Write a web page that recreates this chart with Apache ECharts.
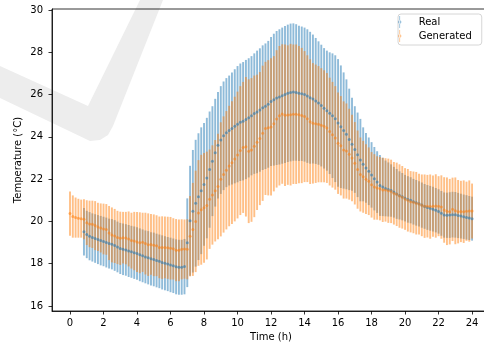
<!DOCTYPE html>
<html>
<head>
<meta charset="utf-8">
<script src="https://cdn.jsdelivr.net/npm/echarts@6/dist/echarts.min.js"></script>
<style>
  html, body { margin: 0; padding: 0; background: #fff; }
  #chart { width: 484px; height: 343px; }
</style>
</head>
<body>
<div id="chart"></div>
<script>
// ---- sampling grid: one sample every 10 minutes, hours 0..24 ----
const STEP_MIN = 10;
const REAL_START_INDEX = 5;   // real data begins at 0:50

const X_TICKS = [0, 2, 4, 6, 8, 10, 12, 14, 16, 18, 20, 22, 24];
const Y_TICKS = [16, 18, 20, 22, 24, 26, 28, 30];

// Generated: mean temperature per sample (deg C)
const GEN_MEAN = [
  20.37, 20.23, 20.18, 20.15, 20.13, 20.10, 19.94, 19.88, 19.86, 19.80,
  19.74, 19.69, 19.64, 19.62, 19.45, 19.36, 19.31, 19.24, 19.20, 19.23,
  19.21, 19.17, 19.09, 19.07, 19.03, 18.99, 19.01, 18.95, 18.90, 18.91,
  18.87, 18.85, 18.77, 18.76, 18.77, 18.75, 18.73, 18.70, 18.64, 18.63,
  18.68, 18.69, 18.68, 19.30, 19.62, 20.00, 20.40, 20.55, 20.64, 20.75,
  21.05, 21.25, 21.45, 21.65, 21.99, 22.22, 22.42, 22.62, 22.78, 22.95,
  23.14, 23.35, 23.50, 23.53, 23.32, 23.38, 23.55, 23.74, 23.92, 24.17,
  24.40, 24.43, 24.47, 24.62, 24.85, 25.00, 25.08, 25.02, 25.03, 25.05,
  25.07, 25.07, 25.05, 25.01, 24.96, 24.86, 24.72, 24.64, 24.62, 24.60,
  24.55, 24.50, 24.42, 24.25, 24.10, 23.95, 23.70, 23.58, 23.38, 23.33,
  23.18, 23.00, 22.75, 22.45, 22.22, 22.11, 22.00, 21.90, 21.73, 21.63,
  21.58, 21.55, 21.49, 21.49, 21.45, 21.42, 21.33, 21.28, 21.20, 21.14,
  21.06, 21.00, 20.93, 20.90, 20.86, 20.82, 20.76, 20.72, 20.72, 20.70,
  20.72, 20.73, 20.72, 20.68, 20.54, 20.48, 20.46, 20.57, 20.50, 20.46,
  20.47, 20.46, 20.48, 20.49, 20.49
];
// Generated: error-bar half height (std) per sample
const GEN_STD = [
  1.05, 1.00, 0.95, 0.92, 0.90, 0.95, 1.06, 1.10, 1.12, 1.16,
  1.14, 1.16, 1.20, 1.20, 1.28, 1.30, 1.28, 1.26, 1.26, 1.22,
  1.24, 1.30, 1.32, 1.38, 1.42, 1.44, 1.40, 1.46, 1.48, 1.44,
  1.46, 1.44, 1.46, 1.48, 1.46, 1.47, 1.48, 1.45, 1.47, 1.46,
  1.42, 1.40, 1.42, 1.90, 2.20, 2.40, 2.50, 2.60, 2.60, 2.55,
  2.35, 2.35, 2.40, 2.50, 2.70, 2.75, 2.80, 2.85, 2.90, 2.95,
  3.00, 3.05, 3.10, 3.30, 3.40, 3.40, 3.35, 3.20, 3.15, 3.20,
  3.15, 3.20, 3.25, 3.20, 3.25, 3.30, 3.30, 3.35, 3.30, 3.35,
  3.30, 3.30, 3.25, 3.20, 3.10, 3.00, 2.95, 2.85, 2.80, 2.75,
  2.70, 2.65, 2.60, 2.55, 2.50, 2.45, 2.40, 2.35, 2.30, 2.25,
  2.15, 2.05, 1.95, 1.85, 1.75, 1.70, 1.65, 1.60, 1.55, 1.55,
  1.50, 1.50, 1.52, 1.50, 1.52, 1.50, 1.48, 1.50, 1.50, 1.48,
  1.46, 1.48, 1.45, 1.46, 1.48, 1.44, 1.46, 1.50, 1.48, 1.52,
  1.45, 1.50, 1.42, 1.50, 1.55, 1.60, 1.55, 1.50, 1.58, 1.50,
  1.45, 1.48, 1.40, 1.45, 1.30
];
// Real: mean temperature per sample (from 0:50 to 24:00)
const REAL_MEAN = [
  19.51, 19.38, 19.30, 19.24, 19.19, 19.14, 19.09, 19.05, 19.00, 18.95,
  18.92, 18.86, 18.79, 18.72, 18.68, 18.65, 18.60, 18.56, 18.52, 18.48,
  18.42, 18.37, 18.32, 18.28, 18.23, 18.20, 18.15, 18.11, 18.06, 18.02,
  17.98, 17.94, 17.90, 17.85, 17.83, 17.83, 17.86, 18.99, 20.03, 20.48,
  20.86, 21.17, 21.45, 21.75, 22.05, 22.45, 22.85, 23.25, 23.60, 23.85,
  24.05, 24.20, 24.30, 24.40, 24.50, 24.60, 24.69, 24.74, 24.82, 24.90,
  25.00, 25.10, 25.18, 25.27, 25.38, 25.45, 25.54, 25.67, 25.76, 25.84,
  25.89, 25.95, 26.00, 26.06, 26.10, 26.12, 26.10, 26.06, 26.04, 26.00,
  25.93, 25.85, 25.79, 25.70, 25.60, 25.48, 25.35, 25.24, 25.12, 25.00,
  24.86, 24.66, 24.48, 24.30, 24.12, 23.88, 23.65, 23.40, 23.15, 22.90,
  22.70, 22.53, 22.37, 22.20, 22.02, 21.86, 21.70, 21.63, 21.56, 21.51,
  21.46, 21.38, 21.30, 21.23, 21.17, 21.10, 21.04, 21.00, 20.93, 20.88,
  20.83, 20.77, 20.71, 20.66, 20.62, 20.58, 20.53, 20.47, 20.38, 20.30,
  20.29, 20.30, 20.32, 20.31, 20.28, 20.25, 20.22, 20.19, 20.16, 20.13
];
// Real: error-bar half height (std) per sample
const REAL_STD = [
  1.12, 1.12, 1.14, 1.14, 1.15, 1.16, 1.17, 1.17, 1.18, 1.18,
  1.19, 1.20, 1.20, 1.21, 1.22, 1.22, 1.23, 1.23, 1.24, 1.24,
  1.25, 1.25, 1.25, 1.26, 1.26, 1.27, 1.27, 1.27, 1.28, 1.28,
  1.28, 1.29, 1.29, 1.30, 1.30, 1.30, 1.31, 2.10, 2.60, 2.90,
  3.00, 3.00, 3.00, 2.90, 2.85, 2.75, 2.60, 2.55, 2.52, 2.55,
  2.57, 2.58, 2.60, 2.65, 2.70, 2.75, 2.78, 2.80, 2.82, 2.82,
  2.82, 2.85, 2.90, 2.92, 2.95, 2.97, 3.00, 3.05, 3.12, 3.17,
  3.20, 3.22, 3.24, 3.25, 3.26, 3.25, 3.23, 3.20, 3.18, 3.17,
  3.16, 3.12, 3.05, 2.98, 2.92, 2.88, 2.85, 2.84, 2.88, 2.95,
  3.00, 3.02, 2.90, 2.75, 2.60, 2.40, 2.20, 2.05, 2.00, 1.95,
  1.75, 1.65, 1.60, 1.55, 1.50, 1.46, 1.44, 1.38, 1.32, 1.28,
  1.24, 1.20, 1.18, 1.14, 1.12, 1.10, 1.10, 1.09, 1.08, 1.08,
  1.07, 1.07, 1.06, 1.06, 1.06, 1.06, 1.05, 1.05, 1.06, 1.07,
  1.07, 1.08, 1.08, 1.08, 1.07, 1.06, 1.05, 1.05, 1.04, 1.04
];

const SERIES_NAMES = ['Real', 'Generated'];

// ---- build datasets ----
const hourOf = (i) => i * STEP_MIN / 60;
const genBars = GEN_MEAN.map((m, i) => [hourOf(i), m - GEN_STD[i], m + GEN_STD[i]]);
const genPts = GEN_MEAN.map((m, i) => [hourOf(i), m]);
const realBars = REAL_MEAN.map((m, i) => [hourOf(i + REAL_START_INDEX), m - REAL_STD[i], m + REAL_STD[i]]);
const realPts = REAL_MEAN.map((m, i) => [hourOf(i + REAL_START_INDEX), m]);

const BLUE = '#1f77b4', ORANGE = '#ff7f0e';
const BLUE_A = 'rgba(31,119,180,0.5)', ORANGE_A = 'rgba(255,127,14,0.5)';

function errorBars(name, data, color) {
  return {
    type: 'custom', name: name, data: data, silent: true, clip: true,
    encode: { x: 0, y: [1, 2] },
    renderItem: function (params, api) {
      const x = api.value(0);
      const p1 = api.coord([x, api.value(1)]);
      const p2 = api.coord([x, api.value(2)]);
      return { type: 'line', shape: { x1: p1[0], y1: p1[1], x2: p2[0], y2: p2[1] },
               style: { stroke: color, lineWidth: 1.9 } };
    }
  };
}
function markers(name, data, color) {
  return { type: 'scatter', name: name, data: data, silent: true, symbol: 'circle', symbolSize: 3,
           itemStyle: { color: color, opacity: 0.55 } };
}

const ICON = 'path://M1.6,0 L2.4,0 L2.4,12 L1.6,12 Z M2,4.3 A1.7,1.7 0 1 0 2,7.7 A1.7,1.7 0 1 0 2,4.3 Z';

const chart = echarts.init(document.getElementById('chart'), null, { renderer: 'canvas' });
const axisCommon = {
  type: 'value',
  nameLocation: 'middle',
  nameMoveOverlap: false,
  nameTextStyle: { fontSize: 10, color: '#000', fontFamily: 'DejaVu Sans' },
  axisLine: { show: true, onZero: false, lineStyle: { color: '#000', width: 0.8 } },
  splitLine: { show: false }
};
chart.setOption({
  animation: false,
  backgroundColor: '#ffffff',
  textStyle: { fontFamily: 'DejaVu Sans' },
  graphic: [{
    type: 'polygon', silent: true, z: -100,
    shape: { points: [[0, 66], [88, 106], [140, 0], [163, 0], [113, 126], [108, 135], [100, 140], [90, 141], [0, 98]] },
    style: { fill: '#ededed' }
  }],
  grid: { left: 52, right: -6, top: 9, bottom: 32, show: true, borderColor: '#000', borderWidth: 0.8,
          backgroundColor: 'transparent', containLabel: false, outerBoundsMode: 'none' },
  xAxis: Object.assign({}, axisCommon, {
    min: -1.075, max: 25.07, name: 'Time (h)', nameGap: 21,
    axisTick: { show: true, length: 3.5, lineStyle: { color: '#000', width: 0.8 }, customValues: X_TICKS },
    axisLabel: { customValues: X_TICKS, fontSize: 10, color: '#000', margin: 7 }
  }),
  yAxis: Object.assign({}, axisCommon, {
    min: 15.76, max: 30.05, name: 'Temperature (°C)', nameGap: 29,
    axisTick: { show: true, length: 3.5, lineStyle: { color: '#000', width: 0.8 }, customValues: Y_TICKS },
    axisLabel: { customValues: Y_TICKS, fontSize: 10, color: '#000', margin: 9 }
  }),
  legend: {
    left: 398, top: 14, orient: 'vertical', padding: [2, 10, 3, 0], itemGap: 2,
    itemWidth: 28, itemHeight: 12, borderColor: '#cccccc', borderWidth: 0.8, borderRadius: 3,
    backgroundColor: 'rgba(255,255,255,0.8)', selectedMode: false,
    textStyle: { fontSize: 10, color: '#000' },
    data: [
      { name: SERIES_NAMES[0], icon: ICON, itemStyle: { color: BLUE_A } },
      { name: SERIES_NAMES[1], icon: ICON, itemStyle: { color: ORANGE_A } }
    ]
  },
  series: [
    errorBars(SERIES_NAMES[0], realBars, BLUE_A),
    markers(SERIES_NAMES[0], realPts, BLUE),
    errorBars(SERIES_NAMES[1], genBars, ORANGE_A),
    markers(SERIES_NAMES[1], genPts, ORANGE)
  ]
});
</script>
</body>
</html>
